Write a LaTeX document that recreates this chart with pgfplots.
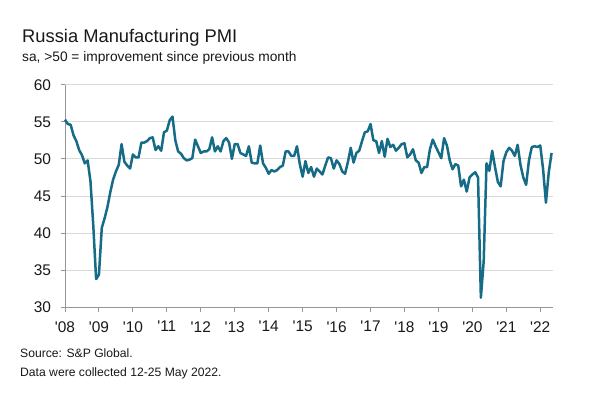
\documentclass[border=0pt]{standalone}
\usepackage{fontspec}
\setmainfont{Liberation Sans}
\usepackage{pgfplots}
\usepackage{pgfplotstable}
\pgfplotsset{compat=1.18}
\definecolor{pmi}{RGB}{22,108,134}
\definecolor{axgray}{RGB}{150,150,150}
\definecolor{gridgray}{RGB}{218,218,218}
\definecolor{txt}{RGB}{25,25,25}

% Russia Manufacturing PMI, monthly, Jan 2008 - May 2022
\pgfplotstableread{
pmi
55.3
54.7
54.6
53.2
52.4
51.2
50.5
49.4
49.8
47.0
41.0
33.8
34.4
40.7
42.0
43.5
45.5
47.2
48.3
49.2
52.0
49.6
49.1
48.7
50.6
50.2
50.2
52.2
52.2
52.4
52.8
52.9
51.2
51.7
51.1
53.6
53.8
55.2
55.7
52.5
51.0
50.7
50.1
49.8
49.9
50.1
52.6
51.7
50.8
51.0
51.0
51.3
52.9
51.0
51.7
51.0
52.4
52.8
52.2
50.0
52.0
52.0
50.8
50.6
50.4
51.7
49.5
49.4
49.4
51.8
49.4
48.8
48.0
48.5
48.3
48.5
48.9
49.1
51.0
51.0
50.4
50.4
51.7
49.3
47.6
49.7
48.1
48.9
47.6
48.7
48.3
47.9
49.1
50.2
50.1
48.7
49.8
49.3
48.3
48.0
49.6
51.5
49.5
50.8
51.1
52.4
53.6
53.7
54.7
52.5
52.4
50.8
52.4
50.3
52.7
51.6
51.9
51.1
51.5
52.0
52.1
50.2
50.6
51.3
49.8
49.5
48.1
48.9
48.9
51.3
52.6
51.7
50.9
50.1
52.8
51.8
49.8
48.6
49.3
49.1
46.3
47.2
45.6
47.5
47.9
48.2
47.5
31.3
36.2
49.4
48.4
51.1
48.9
46.9
46.3
49.7
50.9
51.5
51.1
50.4
51.9
49.2
47.5
46.5
49.8
51.6
51.7
51.6
51.8
48.6
44.1
48.2
50.8
}\pmidata

\begin{document}
\begin{tikzpicture}
\path[use as bounding box, fill=white] (0bp,0bp) rectangle (590bp,394bp);
\node[anchor=base west, inner sep=0, text=txt, font=\fontsize{18.4}{20}\selectfont] at (22bp,351.3bp) {Russia Manufacturing PMI};
\node[anchor=base west, inner sep=0, text=txt, font=\fontsize{13.8}{15}\selectfont] at (22bp,332.3bp) {sa, >50 = improvement since previous month};
\node[anchor=base west, inner sep=0, text=txt, font=\fontsize{12.2}{14}\selectfont] at (20bp,36.7bp) {Source: S\&P Global.};
\node[anchor=base west, inner sep=0, text=txt, font=\fontsize{12.2}{14}\selectfont] at (20bp,17.3bp) {Data were collected 12-25 May 2022.};
\begin{axis}[
  at={(65bp,86.7bp)}, anchor=south west,
  scale only axis, width=488bp, height=222.6bp,
  xmin=0, xmax=172.5, ymin=30, ymax=60,
  axis x line*=bottom, axis y line*=left,
  axis line style={axgray, line width=0.9bp},
  tick style={axgray, line width=0.9bp},
  tick align=outside, major tick length=4.5bp,
  xtick={0,12,...,168},
  xticklabels={\textquotesingle08,\textquotesingle09,\textquotesingle10,\textquotesingle11,\textquotesingle12,\textquotesingle13,\textquotesingle14,\textquotesingle15,\textquotesingle16,\textquotesingle17,\textquotesingle18,\textquotesingle19,\textquotesingle20,\textquotesingle21,\textquotesingle22},
  ytick={30,35,...,60},
  ymajorgrids, grid style={gridgray, line width=0.9bp},
  /pgf/number format/assume math mode=true,
  tick label style={font=\fontsize{15.5}{17}\selectfont, text=txt},
  yticklabel style={xshift=-6bp},
  xticklabel style={yshift=-6bp},
  clip=false,
]
\addplot[pmi, line width=2.5bp, line join=round, no markers] table[x expr=\coordindex, y=pmi] {\pmidata};
\end{axis}
\end{tikzpicture}
\end{document}
